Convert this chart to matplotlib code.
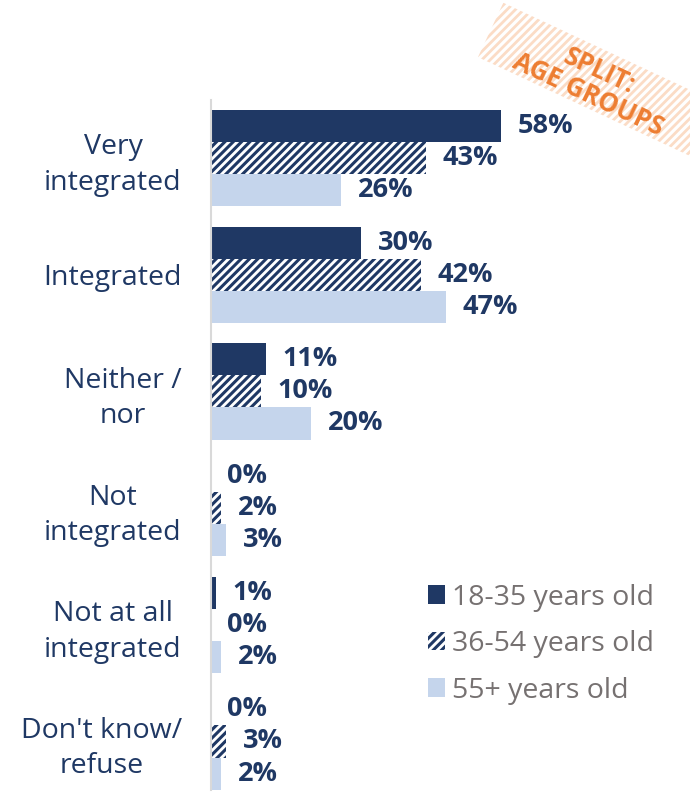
import numpy as np
import matplotlib
matplotlib.use("Agg")
import matplotlib.pyplot as plt
from matplotlib.patches import Patch, Rectangle
import matplotlib.transforms as mtransforms

CATEGORIES = ["Very\nintegrated", "Integrated", "Neither /\nnor", "Not\nintegrated",
              "Not at all\nintegrated", "Don't know/\nrefuse"]
AGE_18_35 = [58, 30, 11, 0, 1, 0]
AGE_36_54 = [43, 42, 10, 2, 0, 3]
AGE_55 = [26, 47, 20, 3, 2, 2]
SERIES_NAMES = ["18-35 years old", "36-54 years old", "55+ years old"]

NAVY = "#1F3864"
LIGHT = "#C5D5EC"
GREY_TXT = "#767171"
ORANGE = "#ED7D31"

plt.rcParams["font.family"] = ["Open Sans", "DejaVu Sans"]
plt.rcParams["hatch.linewidth"] = 2.2

W, H = 690, 792
fig = plt.figure(figsize=(W / 100, H / 100), dpi=100)

# "SPLIT: AGE GROUPS" stamp (drawn first, behind everything)
with plt.rc_context({"hatch.linewidth": 2.0}):
    tr = mtransforms.Affine2D().rotate_deg_around(613, H - 87, -25)
    rect = Rectangle((613 - 135, H - 87 - 30), 270, 60, facecolor="none",
                     edgecolor="#FBDCC6", hatch="////", lw=0, transform=tr)
    fig.patches.append(rect)
fig.text(594 / W, 1 - 83 / H, "SPLIT:\nAGE GROUPS", rotation=-25, ha="center",
         va="center", fontsize=18.5, fontweight="bold", color=ORANGE,
         linespacing=0.95, rotation_mode="anchor")

ax = fig.add_axes([211 / W, 2 / H, 479 / W, 690 / H])
ax.patch.set_alpha(0)

y = np.arange(len(CATEGORIES))
bh = 0.275
ax.barh(y - bh, AGE_18_35, height=bh, color=NAVY, lw=0)
ax.barh(y, AGE_36_54, height=bh, facecolor="white", edgecolor=NAVY, hatch="////", lw=0)
ax.barh(y + bh, AGE_55, height=bh, color=LIGHT, lw=0)

for off, vals in [(-bh, AGE_18_35), (0, AGE_36_54), (bh, AGE_55)]:
    for yi, v in zip(y, vals):
        ax.text(v + 3.3, yi + off, f"{v}%", ha="left", va="center",
                fontsize=19.5, fontweight="bold", color=NAVY)

ax.set_xlim(0, 479 / 5)
ax.set_ylim(5.416, -0.497)
ax.set_yticks(y)
ax.set_yticklabels(CATEGORIES, fontsize=20.5, color=NAVY, linespacing=1.35,
                   multialignment="center")
ax.tick_params(axis="y", length=0, pad=21)
ax.set_xticks([])
for s in ["top", "right", "bottom"]:
    ax.spines[s].set_visible(False)
ax.spines["left"].set_color("#D9D9D9")
ax.spines["left"].set_linewidth(1.5)

handles = [Patch(facecolor=NAVY, lw=0),
           Patch(facecolor="white", edgecolor=NAVY, hatch="////", lw=0),
           Patch(facecolor=LIGHT, lw=0)]
leg = fig.legend(handles, SERIES_NAMES, loc="upper left",
                 bbox_to_anchor=(402 / W, 1 - 558 / H), frameon=False,
                 fontsize=20.5, handlelength=0.62, handleheight=0.62,
                 handletextpad=0.25, labelspacing=0.65)
for t in leg.get_texts():
    t.set_color(GREY_TXT)

fig.savefig("out.png", dpi=100)
